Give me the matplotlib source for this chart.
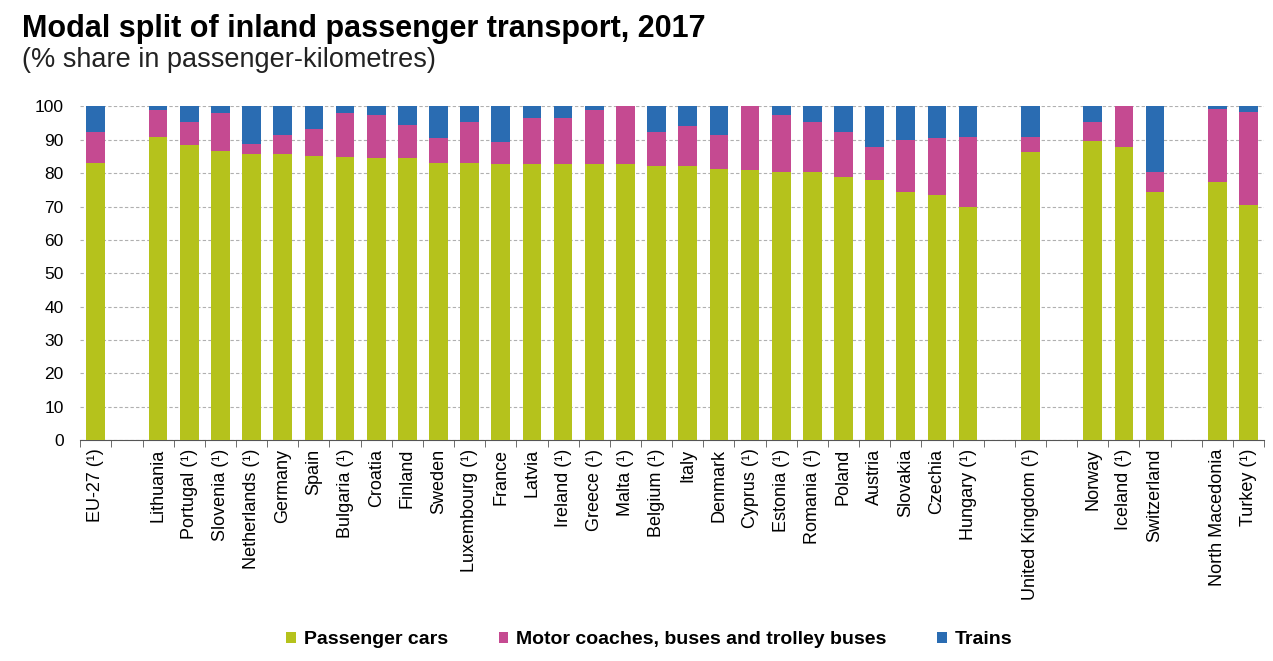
import matplotlib.pyplot as plt
import numpy as np

# slots; empty strings are spacer slots between groups
countries = ['EU-27 (¹)', '',
             'Lithuania', 'Portugal (¹)', 'Slovenia (¹)', 'Netherlands (¹)', 'Germany', 'Spain',
             'Bulgaria (¹)', 'Croatia', 'Finland', 'Sweden', 'Luxembourg (¹)', 'France', 'Latvia',
             'Ireland (¹)', 'Greece (¹)', 'Malta (¹)', 'Belgium (¹)', 'Italy', 'Denmark',
             'Cyprus (¹)', 'Estonia (¹)', 'Romania (¹)', 'Poland', 'Austria', 'Slovakia',
             'Czechia', 'Hungary (¹)', '',
             'United Kingdom (¹)', '',
             'Norway', 'Iceland (¹)', 'Switzerland', '',
             'North Macedonia', 'Turkey (¹)']

cars = [83.0, 0,
        90.9, 88.3, 86.5, 85.7, 85.7, 85.2, 84.9, 84.4, 84.4, 83.1, 83.1, 82.7, 82.7,
        82.7, 82.7, 82.7, 82.2, 82.2, 81.4, 80.9, 80.5, 80.5, 78.8, 77.9, 74.4,
        73.6, 70.0, 0,
        86.2, 0,
        89.6, 87.9, 74.4, 0,
        77.4, 70.5]

buses = [9.2, 0,
         8.0, 7.0, 11.4, 3.0, 5.6, 7.9, 13.0, 13.1, 10.0, 7.4, 12.2, 6.5, 13.8,
         13.8, 16.1, 17.3, 10.0, 11.8, 9.9, 19.1, 17.0, 14.8, 13.4, 10.0, 15.6,
         16.9, 20.9, 0,
         4.7, 0,
         5.7, 12.1, 6.1, 0,
         21.7, 27.8]

trains = [0 if c == '' else round(100 - a - b, 1) for c, a, b in zip(countries, cars, buses)]

col_cars = '#b5c21c'
col_bus = '#c54a91'
col_train = '#2a6cb2'

plt.rcParams['font.family'] = ['Liberation Sans', 'DejaVu Sans']

fig = plt.figure(figsize=(12.73, 6.61), dpi=100)
ax = fig.add_axes([0.063, 0.334, 0.93, 0.505])

x = np.arange(len(countries))
w = 0.6
cars = np.array(cars)
buses = np.array(buses)
trains = np.array(trains)
ax.bar(x, cars, w, color=col_cars, label='Passenger cars', zorder=3)
ax.bar(x, buses, w, bottom=cars, color=col_bus, label='Motor coaches, buses and trolley buses', zorder=3)
ax.bar(x, trains, w, bottom=cars + buses, color=col_train, label='Trains', zorder=3)

ax.set_xlim(-0.5, len(countries) - 0.5)
ax.set_ylim(0, 100)
ax.set_yticks(range(0, 101, 10))
ax.tick_params(axis='y', length=0, labelsize=12.5, pad=12)
ax.yaxis.grid(True, linestyle=(0, (3, 2)), color='#b0b0b0', linewidth=0.8, zorder=0)

ax.set_xticks(x)
ax.set_xticklabels(countries, rotation=90, fontsize=13)
ax.tick_params(axis='x', length=0, pad=6)
ax.set_xticks(np.arange(-0.5, len(countries)), minor=True)
ax.tick_params(axis='x', which='minor', length=5, color='#555555')

for s in ['top', 'right', 'left']:
    ax.spines[s].set_visible(False)
ax.spines['bottom'].set_color('#555555')

fig.text(0.017, 0.956, 'Modal split of inland passenger transport, 2017',
         fontsize=22, fontweight='bold', va='center')
fig.text(0.017, 0.909, '(% share in passenger-kilometres)', fontsize=19.5, va='center',
         color='#222222')

fig.legend(loc='center', bbox_to_anchor=(0.51, 0.032), ncol=3, frameon=False,
           handlelength=0.5, handleheight=0.5, handletextpad=0.4,
           columnspacing=2.6, prop={'family': ['Liberation Sans Narrow', 'Liberation Sans'],
                                    'weight': 'bold', 'size': 14})

fig.savefig('out.png', dpi=100)
